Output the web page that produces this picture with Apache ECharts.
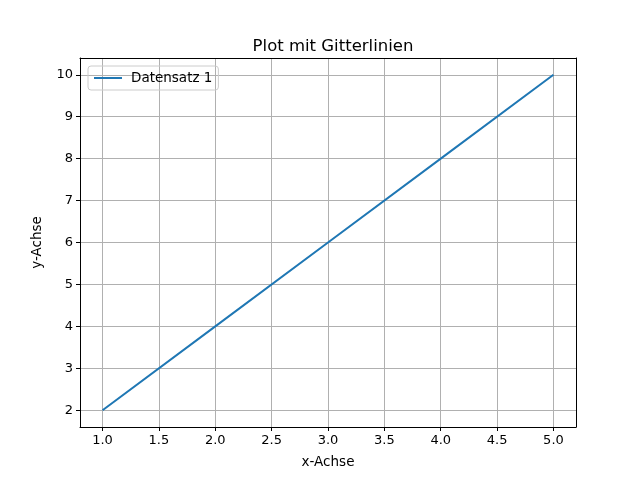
<!DOCTYPE html>
<html><head><meta charset="utf-8">
<script src="https://cdn.jsdelivr.net/npm/echarts@6/dist/echarts.min.js"></script>
<style>html,body{margin:0;padding:0;background:#fff}#c{width:640px;height:480px}</style>
</head><body><div id="c"></div>
<script>
const xValues = [1, 2, 3, 4, 5];
const yValues = [2, 4, 6, 8, 10];
const xTicks = [1.0, 1.5, 2.0, 2.5, 3.0, 3.5, 4.0, 4.5, 5.0];
const yTicks = [2, 3, 4, 5, 6, 7, 8, 9, 10];
const seriesName = 'Datensatz 1';
const font = 'DejaVu Sans';
const chart = echarts.init(document.getElementById('c'));
const frame = {show: true, lineStyle: {color: '#000'}};
chart.setOption({
  animation: false,
  textStyle: {fontFamily: font},
  title: {text: 'Plot mit Gitterlinien', left: 328, top: 33, textAlign: 'center',
    textStyle: {fontFamily: font, fontSize: 16.5, fontWeight: 'normal', color: '#000'}},
  legend: {left: 88, top: 66, data: [seriesName], itemWidth: 28, itemHeight: 2, itemGap: 10,
    icon: 'rect', padding: [5, 6], borderColor: '#ccc', borderWidth: 1, borderRadius: 3,
    textStyle: {fontFamily: font, fontSize: 13.5, color: '#000', padding: [0, 0, 0, 4]}},
  grid: {left: 80, right: 64, top: 58, bottom: 53},
  xAxis: [{type: 'value', min: 0.8, max: 5.2, name: 'x-Achse', nameLocation: 'middle', nameGap: 28,
    nameTextStyle: {fontFamily: font, fontSize: 13.5, color: '#000'},
    axisLine: {onZero: false, lineStyle: {color: '#000'}},
    axisTick: {customValues: xTicks, length: 4, inside: false, lineStyle: {color: '#000'}},
    axisLabel: {customValues: xTicks, formatter: v => v.toFixed(1), color: '#000', fontSize: 13, margin: 7},
    splitLine: {show: true, lineStyle: {color: '#b0b0b0', width: 1}}},
   {type: 'value', position: 'top', min: 0.8, max: 5.2, axisLine: frame, axisTick: {show: false},
    axisLabel: {show: false}, splitLine: {show: false}}],
  yAxis: [{type: 'value', min: 1.6, max: 10.4, name: 'y-Achse', nameLocation: 'middle', nameGap: 36,
    nameTextStyle: {fontFamily: font, fontSize: 13.5, color: '#000'},
    axisLine: {show: true, lineStyle: {color: '#000'}},
    axisTick: {show: true, customValues: yTicks, length: 4, lineStyle: {color: '#000'}},
    axisLabel: {customValues: yTicks, color: '#000', fontSize: 13, margin: 7},
    splitLine: {show: true, lineStyle: {color: '#b0b0b0', width: 1}}},
   {type: 'value', position: 'right', min: 1.6, max: 10.4, axisLine: frame, axisTick: {show: false},
    axisLabel: {show: false}, splitLine: {show: false}}],
  series: [{name: seriesName, type: 'line', data: xValues.map((x, i) => [x, yValues[i]]),
    showSymbol: false, lineStyle: {color: '#1f77b4', width: 2}, itemStyle: {color: '#1f77b4'}}]
});
</script></body></html>
